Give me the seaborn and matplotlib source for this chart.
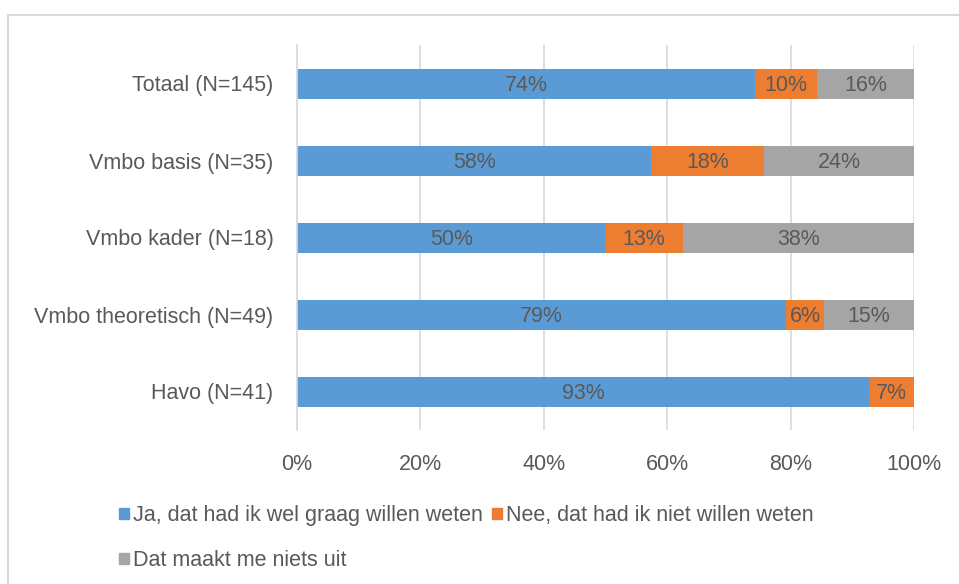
import numpy as np
import pandas as pd
import matplotlib
matplotlib.use("Agg")
import matplotlib.pyplot as plt
import seaborn as sns
from matplotlib.patches import Rectangle, Patch
from matplotlib.ticker import FuncFormatter

# data (percentages)
groups = ["Totaal (N=145)", "Vmbo basis (N=35)", "Vmbo kader (N=18)",
          "Vmbo theoretisch (N=49)", "Havo (N=41)"]
ja = [74.2, 57.4, 50.0, 79.3, 92.7]
nee = [10.1, 18.3, 12.5, 6.1, 7.3]
maakt_niet_uit = [15.7, 24.3, 37.5, 14.6, 0.0]
ja_labels = ["74%", "58%", "50%", "79%", "93%"]
nee_labels = ["10%", "18%", "13%", "6%", "7%"]
niet_uit_labels = ["16%", "24%", "38%", "15%", ""]
series_names = ["Ja, dat had ik wel graag willen weten",
                "Nee, dat had ik niet willen weten",
                "Dat maakt me niets uit"]

colors = ["#5B9BD5", "#ED7D31", "#A5A5A5"]
text_col = "#595959"
fs = 15.5

sns.set_theme(style="white")
plt.rcParams['font.family'] = ['Liberation Sans', 'DejaVu Sans']

df = pd.DataFrame({"group": groups, "ja": ja, "nee": nee, "uit": maakt_niet_uit})
df["c1"] = df["ja"]
df["c2"] = df["ja"] + df["nee"]
df["c3"] = df["c2"] + df["uit"]

fig = plt.figure(figsize=(9.59, 5.84), dpi=100)
ax = fig.add_axes([297 / 959, 1 - 430 / 584, 617 / 959, 385 / 584])

bar_w = 30 / 77
# draw cumulative totals back to front
for col, c in zip(["c3", "c2", "c1"], colors[::-1]):
    sns.barplot(data=df, x=col, y="group", color=c, orient="h",
                width=bar_w, saturation=1, ax=ax, edgecolor="none")

# segment labels
for i, row in df.iterrows():
    starts = [0, row["c1"], row["c2"]]
    widths = [row["ja"], row["nee"], row["uit"]]
    labs = [ja_labels[i], nee_labels[i], niet_uit_labels[i]]
    for s, w, lab in zip(starts, widths, labs):
        if lab:
            ax.text(s + w / 2, i + 0.02, lab, ha="center", va="center",
                    fontsize=fs, color=text_col)

ax.set_xlim(0, 100)
ax.set_ylim(4.5, -0.5)
ax.set_xticks(np.arange(0, 101, 20))
ax.xaxis.set_major_formatter(FuncFormatter(lambda v, p: f"{v:.0f}%"))
ax.grid(axis="x", color="#D9D9D9", linewidth=1.2)
ax.set_axisbelow(True)
for s in ["top", "right", "bottom"]:
    ax.spines[s].set_visible(False)
ax.spines["left"].set_color("#D9D9D9")
ax.spines["left"].set_linewidth(1.2)
ax.set_xlabel("")
ax.set_ylabel("")
ax.tick_params(axis="both", length=0, labelsize=fs, labelcolor=text_col)
ax.tick_params(axis="x", pad=17)
ax.tick_params(axis="y", pad=17)

handles = [Patch(color=colors[0]), Patch(color=colors[2]), Patch(color=colors[1])]
labels = [series_names[0], series_names[2], series_names[1]]
fig.legend(handles, labels, ncol=2, loc="upper left",
           bbox_to_anchor=(100 / 959, 1 - 486 / 584), frameon=False,
           fontsize=fs, labelcolor=text_col, handlelength=0.45, handleheight=0.45,
           handletextpad=0.2, columnspacing=0.4, labelspacing=1.1)

# outer chart frame
fig.patches.append(Rectangle((8 / 959, -0.1), 1.2, 1 - 15 / 584 + 0.1,
                             transform=fig.transFigure, fill=False,
                             edgecolor="#D9D9D9", linewidth=1.5))

fig.savefig("out.png", dpi=100)
